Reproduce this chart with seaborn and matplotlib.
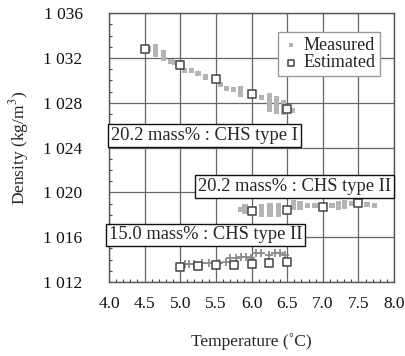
import numpy as np
import pandas as pd
import matplotlib
matplotlib.use("Agg")
import matplotlib.pyplot as plt
import seaborn as sns
from matplotlib.ticker import MultipleLocator

# ---------------- data ----------------
# 20.2 mass% : CHS type I
m1_T = [4.48, 4.55, 4.65, 4.65, 4.65, 4.65, 4.76, 4.76, 4.76, 4.87, 4.92,
        5.06, 5.16, 5.25, 5.35, 5.57, 5.65, 5.75, 5.85, 5.85, 5.85, 6.14,
        6.25, 6.25, 6.25, 6.25, 6.25, 6.35, 6.35, 6.35, 6.35, 6.35,
        6.45, 6.45, 6.45, 6.45, 6.58]
m1_D = [1032.9, 1032.8, 1033.0, 1032.75, 1032.5, 1032.3, 1032.5, 1032.2, 1032.0, 1031.7, 1031.6,
        1030.9, 1030.9, 1030.6, 1030.3, 1029.6, 1029.3, 1029.2, 1029.3, 1029.0, 1028.75, 1028.45,
        1028.6, 1028.3, 1028.0, 1027.7, 1027.4, 1028.4, 1028.1, 1027.8, 1027.5, 1027.2,
        1028.0, 1027.7, 1027.4, 1027.1, 1027.3]
e1_T = [4.5, 5.0, 5.5, 6.0, 6.5]
e1_D = [1032.8, 1031.4, 1030.1, 1028.8, 1027.4]

# 20.2 mass% : CHS type II
m2_T = [5.84, 5.91, 5.91, 6.14, 6.14, 6.14, 6.26, 6.26, 6.26, 6.38, 6.38, 6.38,
        6.59, 6.59, 6.68, 6.68, 6.78, 6.89, 7.13, 7.22, 7.22, 7.31, 7.31, 7.41, 7.62, 7.72]
m2_D = [1018.45, 1018.7, 1018.3, 1018.7, 1018.35, 1018.0, 1018.85, 1018.45, 1018.0, 1018.8, 1018.4, 1018.0,
        1019.05, 1018.65, 1019.0, 1018.7, 1018.85, 1018.8, 1018.85, 1019.0, 1018.65, 1019.1, 1018.75, 1019.0, 1018.9, 1018.85]
e2_T = [6.0, 6.5, 7.0, 7.5]
e2_D = [1018.35, 1018.4, 1018.65, 1019.05]

# 15.0 mass% : CHS type II
m3_T = [5.06, 5.13, 5.2, 5.3, 5.4, 5.55, 5.64, 5.7, 5.78, 5.85, 5.92, 5.99,
        6.07, 6.14, 6.24, 6.33, 6.4, 6.47]
m3_D = [1013.56, 1013.6, 1013.6, 1013.65, 1013.68, 1013.7, 1013.8, 1014.1, 1014.1, 1014.25, 1014.25, 1014.1,
        1014.55, 1014.55, 1014.4, 1014.55, 1014.6, 1014.4]
e3_T = [5.0, 5.25, 5.5, 5.75, 6.0, 6.25, 6.5]
e3_D = [1013.35, 1013.44, 1013.5, 1013.5, 1013.56, 1013.7, 1013.8]

x_ticks = [4.0, 4.5, 5.0, 5.5, 6.0, 6.5, 7.0, 7.5, 8.0]
y_ticks = [1012, 1016, 1020, 1024, 1028, 1032, 1036]
y_tick_labels = ["1 012", "1 016", "1 020", "1 024", "1 028", "1 032", "1 036"]

labels = ["20.2 mass% : CHS type I", "20.2 mass% : CHS type II", "15.0 mass% : CHS type II"]
label_pos_T = [5.34, 6.6, 5.36]
label_pos_D = [1025.1, 1020.5, 1016.2]

# ---------------- plot ----------------
sns.set_theme(style="white")
plt.rcParams["font.family"] = ["Liberation Serif", "DejaVu Serif"]
plt.rcParams["mathtext.fontset"] = "stix"

fig = plt.figure(figsize=(4.05, 3.56), dpi=100)
ax = fig.add_axes([0.269, 0.208, 0.704, 0.755])

meas = pd.DataFrame({"T": m1_T + m2_T, "D": m1_D + m2_D})
est = pd.DataFrame({"T": e1_T + e2_T + e3_T, "D": e1_D + e2_D + e3_D})
meas3 = pd.DataFrame({"T": m3_T, "D": m3_D})

sns.scatterplot(data=meas, x="T", y="D", ax=ax, marker="s", s=14, color="#b4b4b4",
                edgecolor="none", label="Measured", zorder=3)
sns.scatterplot(data=meas3, x="T", y="D", ax=ax, marker="+", s=30, color="#8c8c8c",
                linewidth=1.3, zorder=3, legend=False)
sns.scatterplot(data=est, x="T", y="D", ax=ax, marker="s", s=28, facecolor="white",
                edgecolor="#444444", linewidth=1.1, label="Estimated", zorder=4)

ax.set_xlim(4.0, 8.0)
ax.set_ylim(1012, 1036)
ax.set_xticks(x_ticks)
ax.set_xticklabels([f"{v:.1f}" for v in x_ticks])
ax.set_yticks(y_ticks)
ax.set_yticklabels(y_tick_labels)
ax.xaxis.set_minor_locator(MultipleLocator(0.1))
ax.yaxis.set_minor_locator(MultipleLocator(1))
ax.grid(True, which="major", color="#666666", linewidth=0.9)
ax.set_axisbelow(True)
ax.tick_params(axis="both", which="major", direction="in", length=0, labelsize=12.5, colors="#111111")
ax.tick_params(axis="y", which="major", pad=19)
ax.tick_params(axis="x", which="major", pad=10)
ax.tick_params(axis="both", which="minor", direction="in", length=2.5, color="#444444", width=0.8)
ax.tick_params(which="minor", top=False, right=False)
ax.tick_params(which="minor", bottom=True, left=True)
for s in ax.spines.values():
    s.set_color("#555555")
    s.set_linewidth(1.0)

ax.set_xlabel("Temperature (˚C)", fontsize=12.5, labelpad=15)
ax.set_ylabel("Density (kg/m$^3$)", fontsize=12.5, labelpad=9)

leg = ax.legend(loc="upper right", bbox_to_anchor=(0.952, 0.93), fontsize=13,
                frameon=True, fancybox=False, handletextpad=0.2, handlelength=1.0,
                borderpad=0.25, labelspacing=0.05, borderaxespad=0, markerscale=0.8)
leg.get_frame().set_edgecolor("#999999")
leg.get_frame().set_linewidth(1.0)
leg.get_frame().set_facecolor("white")
leg.get_frame().set_alpha(1)

for txt, tx, ty in zip(labels, label_pos_T, label_pos_D):
    ax.text(tx, ty, txt, ha="center", va="center", fontsize=13.3, zorder=6, clip_on=False,
            bbox=dict(boxstyle="square,pad=0.15", facecolor="white", edgecolor="#111111", linewidth=1.0))

fig.savefig("out.png", dpi=100)
